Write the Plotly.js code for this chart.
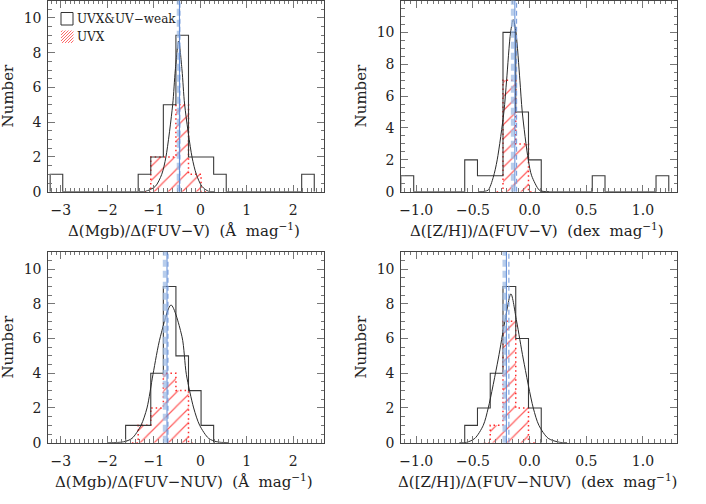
<!DOCTYPE html>
<html>
<head>
<meta charset="utf-8">
<script src="https://cdn.plot.ly/plotly-3.0.1.min.js"></script>
<style>
  body { margin: 0; background: #fff; }
  #chart { width: 706px; height: 504px; }
</style>
</head>
<body>
<div id="chart"></div>
<script>
// bin grids: left edge of first bin and bin width
const mgbStart = -3.23, mgbWidth = 0.2705;
const zhStart = -1.135, zhWidth = 0.1125;

// counts per bin (21 bins each)
const mgbV_all = [1,0,0,0,0,0,0,1,2,5,9,2,2,1,0,0,0,0,0,0,1];
const mgbV_uvx = [0,0,0,0,0,0,0,0,2,2,5,1,0,0,0,0,0,0,0,0,0];
const zhV_all  = [1,0,0,0,0,2,1,1,10,5,2,0,0,0,0,1,0,0,0,0,1];
const zhV_uvx  = [0,0,0,0,0,0,0,0,7,3,0,0,0,0,0,0,0,0,0,0,0];
const mgbN_all = [0,0,0,0,0,0,1,1,4,9,5,3,1,0,0,0,0,0,0,0,0];
const mgbN_uvx = [0,0,0,0,0,0,0,1,2,4,3,0,0,0,0,0,0,0,0,0,0];
const zhN_all  = [0,0,0,0,0,1,2,4,9,6,2,0,0,0,0,0,0,0,0,0,0];
const zhN_uvx  = [0,0,0,0,0,0,0,1,7,2,0,0,0,0,0,0,0,0,0,0,0];

// gaussian fit curves
const fitMgbV_x = [-1.30, -1.18, -0.97, -0.83, -0.74, -0.595, -0.538, -0.466, -0.394, -0.337, -0.179, -0.086, 0.036, 0.18, 0.30];
const fitMgbV_y = [0, 0.02, 0.3, 1, 2, 5, 7, 8.67, 7, 5, 2, 1, 0.3, 0.02, 0];
const fitZhV_x  = [-0.45, -0.40, -0.365, -0.321, -0.286, -0.227, -0.203, -0.168, -0.145, -0.121, -0.086, -0.065, -0.012, 0.018, 0.085, 0.12, 0.17];
const fitZhV_y  = [0, 0.02, 0.1, 0.9, 2, 5, 7, 10, 10.8, 10, 7, 5, 2, 1, 0.1, 0.02, 0];
const fitMgbN_x = [-2.0, -1.65, -1.47, -1.276, -1.147, -1.018, -0.86, -0.63, -0.394, -0.301, -0.143, -0.014, 0.179, 0.358, 0.6];
const fitMgbN_y = [0, 0.05, 0.25, 1, 2, 3.94, 6.1, 7.93, 6.1, 3.94, 2, 1, 0.25, 0.05, 0];
const fitZhN_x  = [-0.62, -0.556, -0.483, -0.409, -0.365, -0.277, -0.218, -0.165, -0.115, -0.056, 0.032, 0.082, 0.164, 0.267, 0.33];
const fitZhN_y  = [0, 0.02, 0.25, 1, 2, 4.82, 7, 8.57, 7, 4.82, 2, 1, 0.25, 0.02, 0];

// vertical markers per panel
const thickDashed = [-0.47, -0.15, -0.77, -0.224];
const thinSolid   = [-0.45, -0.13, -0.717, -0.205];
const thinDashed  = [-0.44, -0.115, -0.696, -0.183];

const xTitles = [
  'Δ(Mgb)/Δ(FUV−V)\u00a0\u00a0(Å\u00a0\u00a0mag<sup>−1</sup>)',
  'Δ([Z/H])/Δ(FUV−V)\u00a0\u00a0(dex\u00a0\u00a0mag<sup>−1</sup>)',
  'Δ(Mgb)/Δ(FUV−NUV)\u00a0\u00a0(Å\u00a0\u00a0mag<sup>−1</sup>)',
  'Δ([Z/H])/Δ(FUV−NUV)\u00a0\u00a0(dex\u00a0\u00a0mag<sup>−1</sup>)'
];

const W = 706, H = 504;
const px = x => x / W;
const py = y => 1 - y / H;

const panels = [
  { start: mgbStart, width: mgbWidth, all: mgbV_all, uvx: mgbV_uvx, fx: fitMgbV_x, fy: fitMgbV_y,
    xr: [-3.27, 2.66], dt: 1, mdt: 0.1, fmt: 'd', yr: [0, 11], xd: [48.3, 324], yd: [0.5, 191.7] },
  { start: zhStart, width: zhWidth, all: zhV_all, uvx: zhV_uvx, fx: fitZhV_x, fy: fitZhV_y,
    xr: [-1.132, 1.30], dt: 0.5, mdt: 0.05, fmt: '.1f', yr: [0, 12], xd: [401.3, 677], yd: [0.5, 191.7] },
  { start: mgbStart, width: mgbWidth, all: mgbN_all, uvx: mgbN_uvx, fx: fitMgbN_x, fy: fitMgbN_y,
    xr: [-3.27, 2.66], dt: 1, mdt: 0.1, fmt: 'd', yr: [0, 11], xd: [48.3, 324], yd: [251.7, 442.7] },
  { start: zhStart, width: zhWidth, all: zhN_all, uvx: zhN_uvx, fx: fitZhN_x, fy: fitZhN_y,
    xr: [-1.132, 1.30], dt: 0.5, mdt: 0.05, fmt: '.1f', yr: [0, 11], xd: [401.3, 677], yd: [251.7, 442.7] }
];

// step outline of a histogram, trimmed to the non-empty part
function steps(start, width, counts, pad) {
  let i0 = counts.findIndex(c => c > 0);
  let i1 = counts.length - 1;
  while (counts[i1] === 0) i1--;
  const e = k => start + k * width;
  const xs = [e(i0) - pad * width, e(i0)], ys = [0, 0];
  for (let i = i0; i <= i1; i++) {
    xs.push(e(i), e(i + 1));
    ys.push(counts[i], counts[i]);
  }
  xs.push(e(i1 + 1), e(i1 + 1) + pad * width);
  ys.push(0, 0);
  return { x: xs, y: ys };
}

const tickFont = { family: 'DejaVu Serif', size: 14, color: '#222' };
const traces = [];
const shapes = [];
const annotations = [];
const layout = {
  width: W, height: H,
  margin: { l: 0, r: 0, t: 0, b: 0 },
  paper_bgcolor: '#fff', plot_bgcolor: '#fff',
  showlegend: false,
  font: { family: 'DejaVu Serif', size: 15, color: '#222' }
};

panels.forEach((p, i) => {
  const n = i === 0 ? '' : String(i + 1);
  const xa = 'x' + n, ya = 'y' + n;

  const red = steps(p.start, p.width, p.uvx, 0.5);
  traces.push({
    x: red.x, y: red.y, xaxis: xa, yaxis: ya, mode: 'lines',
    line: { color: '#ff2b2b', width: 1.5, dash: '1.5px,3px' },
    fill: 'tozeroy', fillcolor: 'rgba(255,255,255,0)',
    fillpattern: { shape: '/', fgcolor: '#ff5c5c', bgcolor: 'rgba(255,255,255,0)', size: 10, solidity: 0.12 },
    hoverinfo: 'skip'
  });

  const blk = steps(p.start, p.width, p.all, 0);
  traces.push({
    x: blk.x, y: blk.y, xaxis: xa, yaxis: ya, mode: 'lines',
    line: { color: '#3a3a3a', width: 1.1 }, hoverinfo: 'skip'
  });

  traces.push({
    x: p.fx, y: p.fy, xaxis: xa, yaxis: ya, mode: 'lines',
    line: { color: '#2a2a2a', width: 1, shape: 'spline', smoothing: 0.8 }, hoverinfo: 'skip'
  });

  shapes.push(
    { type: 'line', xref: xa, yref: ya + ' domain', x0: thickDashed[i], x1: thickDashed[i], y0: 0, y1: 1,
      line: { color: 'rgba(160,188,228,0.75)', width: 3.5, dash: '7px,4px' }, layer: 'above' },
    { type: 'line', xref: xa, yref: ya + ' domain', x0: thinDashed[i], x1: thinDashed[i], y0: 0, y1: 1,
      line: { color: '#7a9edd', width: 1.1, dash: '5px,3px' }, layer: 'above' },
    { type: 'line', xref: xa, yref: ya + ' domain', x0: thinSolid[i], x1: thinSolid[i], y0: 0, y1: 1,
      line: { color: '#5b88d4', width: 1 }, layer: 'above' }
  );

  const common = {
    ticks: 'inside', ticklen: 7, tickwidth: 1, tickcolor: '#777',
    mirror: 'allticks', showline: true, linecolor: '#444', linewidth: 1,
    showgrid: false, zeroline: false, tickfont: tickFont, fixedrange: true
  };
  layout['xaxis' + n] = Object.assign({}, common, {
    domain: [px(p.xd[0]), px(p.xd[1])], range: p.xr, anchor: ya,
    tick0: 0, dtick: p.dt, tickformat: p.fmt, ticklabelstandoff: 5,
    minor: { ticks: 'inside', ticklen: 3.5, dtick: p.mdt, tickcolor: '#777' }
  });
  layout['yaxis' + n] = Object.assign({}, common, {
    domain: [py(p.yd[1]), py(p.yd[0])], range: p.yr, anchor: xa,
    tick0: 0, dtick: 2, ticklabelstandoff: 3,
    minor: { ticks: 'inside', ticklen: 3.5, dtick: 0.5, tickcolor: '#777' }
  });

  const cx = (p.xd[0] + p.xd[1]) / 2 - 2;
  annotations.push({
    text: xTitles[i], xref: 'paper', yref: 'paper', x: px(cx), y: py(p.yd[1] + 38),
    showarrow: false, xanchor: 'center', yanchor: 'middle', font: { size: 15 }
  });
  annotations.push({
    text: 'Number', xref: 'paper', yref: 'paper', x: px(p.xd[0] - 40), y: py((p.yd[0] + p.yd[1]) / 2),
    showarrow: false, textangle: -90, xanchor: 'center', yanchor: 'middle', font: { size: 15 }
  });
});

// legend, drawn in the first panel
shapes.push({
  type: 'rect', xref: 'paper', yref: 'paper',
  x0: px(61), x1: px(73), y0: py(25), y1: py(12.5),
  line: { color: '#333', width: 1 }, fillcolor: 'rgba(0,0,0,0)'
});
let hatch = '';
const hx = 61, hy = 30.5, hs = 12.5;
for (let c = 1.5; c < 2 * hs; c += 3) {
  const a = Math.max(0, c - hs), b = Math.min(hs, c);
  hatch += 'M' + px(hx + a) + ',' + py(hy + c - a) + 'L' + px(hx + b) + ',' + py(hy + c - b);
}
shapes.push({ type: 'path', xref: 'paper', yref: 'paper', path: hatch, line: { color: '#ff6a6a', width: 1 } });
annotations.push(
  { text: 'UVX&amp;UV−weak', xref: 'paper', yref: 'paper', x: px(75), y: py(19), xanchor: 'left', yanchor: 'middle',
    showarrow: false, font: { size: 12 } },
  { text: 'UVX', xref: 'paper', yref: 'paper', x: px(75), y: py(37), xanchor: 'left', yanchor: 'middle',
    showarrow: false, font: { size: 12 } }
);

layout.shapes = shapes;
layout.annotations = annotations;

Plotly.newPlot('chart', traces, layout, { displayModeBar: false, staticPlot: true });
</script>
</body>
</html>
